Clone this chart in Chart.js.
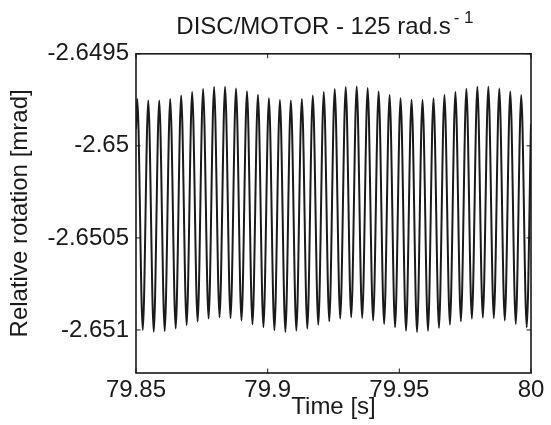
<!DOCTYPE html>
<html>
<head>
<meta charset="utf-8">
<title>DISC/MOTOR - 125 rad.s-1</title>
<script src="https://cdn.jsdelivr.net/npm/chart.js@4.4.0/dist/chart.umd.min.js"></script>
<style>
    html, body { margin: 0; padding: 0; background: #fff; }
    #wrap { width: 551px; height: 425px; }
</style>
</head>
<body>
<div id="wrap"><canvas id="rotation-chart" width="551" height="425"></canvas></div>
<script>
// Peaks and troughs (time in s, relative rotation in mrad)
const peakTimes = [
    79.85049, 79.85466, 79.85882, 79.86299, 79.86715, 79.87132, 79.87548, 79.87965, 79.88382,
    79.88798, 79.89215, 79.89631, 79.90048, 79.90465, 79.90881, 79.91298, 79.91714, 79.92131,
    79.92547, 79.92964, 79.93381, 79.93797, 79.94214, 79.94630, 79.95047, 79.95464, 79.95880,
    79.96297, 79.96713, 79.97130, 79.97546, 79.97963, 79.98380, 79.98796, 79.99213, 79.99629
];
const peakValues = [
    -2.649746, -2.649753, -2.649753, -2.649745, -2.649727, -2.649708, -2.649691, -2.649680, -2.649679,
    -2.649689, -2.649704, -2.649723, -2.649741, -2.649751, -2.649753, -2.649745, -2.649727, -2.649708,
    -2.649691, -2.649680, -2.649678, -2.649686, -2.649705, -2.649724, -2.649741, -2.649750, -2.649750,
    -2.649741, -2.649724, -2.649707, -2.649690, -2.649679, -2.649679, -2.649689, -2.649705, -2.649724
];
const troughTimes = [
    79.85257, 79.85674, 79.86090, 79.86507, 79.86923, 79.87340, 79.87756, 79.88173, 79.88590,
    79.89006, 79.89423, 79.89839, 79.90256, 79.90673, 79.91089, 79.91506, 79.91922, 79.92339,
    79.92755, 79.93172, 79.93589, 79.94005, 79.94422, 79.94838, 79.95255, 79.95672, 79.96088,
    79.96505, 79.96921, 79.97338, 79.97754, 79.98171, 79.98588, 79.99004, 79.99421, 79.99837
];
const troughValues = [
    -2.651000, -2.651010, -2.651005, -2.650992, -2.650973, -2.650954, -2.650938, -2.650931, -2.650936,
    -2.650949, -2.650970, -2.650985, -2.651002, -2.651011, -2.651004, -2.650993, -2.650972, -2.650953,
    -2.650939, -2.650931, -2.650935, -2.650949, -2.650967, -2.650985, -2.651004, -2.651011, -2.651004,
    -2.650989, -2.650971, -2.650953, -2.650939, -2.650933, -2.650936, -2.650949, -2.650967, -2.650986
];
// signal where it enters / leaves the axes
const edgeTimes = [79.85, 80];
const edgeValues = [-2.64991, -2.64988];

const xTicks = [79.85, 79.9, 79.95, 80];
const xTickLabels = ['79.85', '79.9', '79.95', '80'];
const yTicks = [-2.6495, -2.65, -2.6505, -2.651];
const yTickLabels = ['-2.6495', '-2.65', '-2.6505', '-2.651'];

const FONT = '"Liberation Sans", Arial, Helvetica, sans-serif';
const INK = '#1a1a1a';
const TITLE_MAIN = 'DISC/MOTOR - 125 rad.s';
const TITLE_SUP = '- 1';

function buildSeries() {
    const pts = [];
    edgeTimes.forEach((t, i) => pts.push({ x: t, y: edgeValues[i] }));
    peakTimes.forEach((t, i) => pts.push({ x: t, y: peakValues[i] }));
    troughTimes.forEach((t, i) => pts.push({ x: t, y: troughValues[i] }));
    return pts.sort((a, b) => a.x - b.x);
}

// MATLAB-like box with inward ticks on all four sides
const boxPlugin = {
    id: 'matlabBox',
    afterDraw(chart) {
        const { ctx, chartArea: a, scales } = chart;
        const len = 4.5;
        ctx.save();
        ctx.strokeStyle = INK;
        ctx.lineWidth = 1;
        ctx.beginPath();
        xTicks.forEach(v => {
            const px = scales.x.getPixelForValue(v);
            ctx.moveTo(px, a.bottom); ctx.lineTo(px, a.bottom - len);
            ctx.moveTo(px, a.top); ctx.lineTo(px, a.top + len);
        });
        yTicks.forEach(v => {
            const py = scales.y.getPixelForValue(v);
            ctx.moveTo(a.left, py); ctx.lineTo(a.left + len, py);
            ctx.moveTo(a.right, py); ctx.lineTo(a.right - len, py);
        });
        ctx.stroke();
        ctx.lineWidth = 1.6;
        ctx.strokeRect(a.left, a.top, a.right - a.left, a.bottom - a.top);
        ctx.restore();
    }
};

// superscript after the title text
const supPlugin = {
    id: 'titleSup',
    afterDraw(chart) {
        const tb = chart.titleBlock;
        if (!tb) return;
        const ctx = chart.ctx;
        const opts = chart.options.plugins.title;
        ctx.save();
        ctx.font = '24px ' + FONT;
        const fullW = ctx.measureText(opts.text).width;
        const mainW = ctx.measureText(TITLE_MAIN).width;
        const cx = (tb.left + tb.right) / 2;
        const x = cx - fullW / 2 + mainW + 3;
        ctx.font = '17px ' + FONT;
        ctx.fillStyle = INK;
        ctx.textBaseline = 'alphabetic';
        ctx.fillText(TITLE_SUP, x, 23);
        ctx.restore();
    }
};

document.addEventListener('DOMContentLoaded', () => {
    const ctx = document.getElementById('rotation-chart');

    new Chart(ctx, {
        type: 'line',
        data: {
            datasets: [{
                data: buildSeries(),
                borderColor: INK,
                borderWidth: 2,
                pointRadius: 0,
                fill: false,
                cubicInterpolationMode: 'monotone'
            }]
        },
        options: {
            responsive: false,
            animation: false,
            devicePixelRatio: 1,
            layout: { padding: { left: 0, right: 20, top: 0, bottom: 0 } },
            plugins: {
                legend: { display: false },
                tooltip: { enabled: false },
                title: {
                    display: true,
                    text: TITLE_MAIN + '      ',
                    fullSize: false,
                    color: INK,
                    font: { family: FONT, size: 24, weight: 'normal' },
                    padding: { top: 13, bottom: 12 }
                }
            },
            scales: {
                x: {
                    type: 'linear',
                    min: 79.85,
                    max: 80,
                    afterBuildTicks: s => { s.ticks = xTicks.map(v => ({ value: v })); },
                    afterFit: s => { s.height = 52; },
                    grid: { display: false, drawTicks: false },
                    border: { display: false },
                    ticks: {
                        color: INK,
                        padding: 3,
                        maxRotation: 0,
                        autoSkip: false,
                        font: { family: FONT, size: 24 },
                        callback: (v, i) => xTickLabels[i]
                    },
                    title: {
                        display: true,
                        text: 'Time [s]',
                        color: INK,
                        font: { family: FONT, size: 24 },
                        padding: { top: 0, bottom: 3 }
                    }
                },
                y: {
                    min: -2.6512337,
                    max: -2.6495,
                    afterBuildTicks: s => { s.ticks = yTicks.map(v => ({ value: v })); },
                    afterFit: s => { s.width = 136; },
                    grid: { display: false, drawTicks: false },
                    border: { display: false },
                    ticks: {
                        color: INK,
                        padding: 7,
                        autoSkip: false,
                        font: { family: FONT, size: 24 },
                        callback: (v, i) => yTickLabels[i]
                    },
                    title: {
                        display: true,
                        text: 'Relative rotation [mrad]',
                        color: INK,
                        font: { family: FONT, size: 24 },
                        padding: { top: 6, bottom: 0 }
                    }
                }
            }
        },
        plugins: [boxPlugin, supPlugin]
    });
});
</script>
</body>
</html>
